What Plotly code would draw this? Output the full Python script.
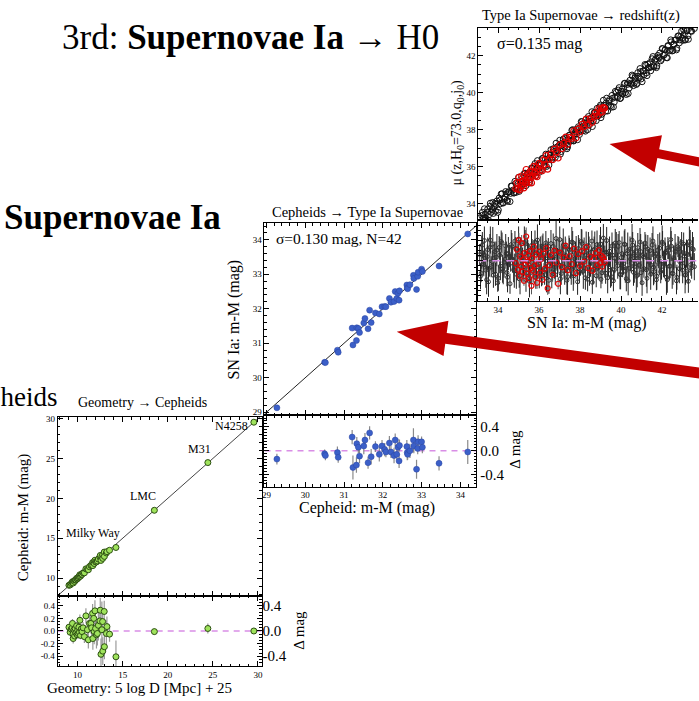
import math
import plotly.graph_objects as go

W, H = 699, 701

# ---------------- DATA ----------------
# Panel 1: Geometry -> Cepheids (Milky Way parallaxes, LMC, M31, N4258)
geo_x = [9.05, 9.18, 9.30, 9.41, 9.44, 9.50, 9.52, 9.61, 9.68, 9.74, 9.82, 9.90, 9.96,
         10.02, 10.08, 10.15, 10.21, 10.26, 10.33, 10.41, 10.50, 10.62, 10.76, 10.93,
         11.10, 11.20, 11.32, 11.48, 11.56, 11.67, 11.70, 11.80, 11.85, 11.93, 12.00,
         12.10, 12.20, 12.31, 12.48, 12.52, 12.60, 12.70, 12.78, 12.80, 12.96, 12.98,
         13.20, 13.26, 13.55, 14.26, 18.52, 24.45, 29.55]
geo_res = [0.06, -0.02, 0.03, 0.05, 0.12, -0.05, -0.12, 0.02, -0.08, 0.04, -0.03, 0.08, -0.06,
           0.01, -0.04, 0.06, -0.02, 0.17, -0.07, 0.03, -0.01, 0.05, -0.09, 0.24,
           0.02, -0.14, 0.12, 0.12, 0.05, 0.28, -0.12, 0.20, -0.01, 0.32, 0.04,
           -0.06, -0.04, 0.09, 0.16, 0.33, -0.37, 0.02, 0.15, -0.32, 0.31, -0.25,
           -0.04, 0.07, -0.05, -0.41, -0.01, 0.04, 0.00]
geo_err = [0.05, 0.04, 0.06, 0.05, 0.07, 0.05, 0.08, 0.04, 0.06, 0.05, 0.07, 0.06, 0.05,
           0.06, 0.08, 0.05, 0.07, 0.09, 0.06, 0.08, 0.07, 0.09, 0.10, 0.12,
           0.11, 0.14, 0.13, 0.16, 0.12, 0.15, 0.18, 0.14, 0.20, 0.17, 0.16,
           0.22, 0.19, 0.24, 0.15, 0.20, 0.25, 0.45, 0.18, 0.22, 0.17, 0.20,
           0.21, 0.16, 0.12, 0.26, 0.05, 0.08, 0.03]
geo_names = ["Milky Way", "LMC", "M31", "N4258"]
geo_name_x = [11.77, 17.28, 23.56, 27.09]
geo_name_y = [15.64, 20.24, 26.22, 29.08]

# Panel 2: Cepheids -> SN Ia (N=42)
cep_x = [29.27, 30.50, 30.52, 30.83, 30.85, 31.21, 31.23, 31.32, 31.33, 31.37, 31.40,
         31.51, 31.54, 31.62, 31.66, 31.70, 31.81, 31.91, 31.98, 32.05, 32.08, 32.17,
         32.21, 32.29, 32.32, 32.36, 32.39, 32.42, 32.43, 32.62, 32.63, 32.64, 32.70,
         32.79, 32.80, 32.87, 32.90, 32.91, 33.00, 33.02, 33.45, 34.19]
cep_res = [-0.14, -0.05, -0.08, -0.03, -0.11, 0.23, -0.28, -0.24, 0.12, 0.06, -0.09,
           0.08, 0.18, -0.20, 0.30, -0.10, 0.07, -0.06, 0.08, 0.02, -0.02, 0.13,
           -0.02, -0.08, 0.18, -0.06, 0.06, -0.17, 0.09, 0.07, -0.03, -0.06, 0.00,
           0.18, 0.08, -0.31, 0.04, 0.15, 0.15, 0.06, -0.21, -0.02]
cep_err = [0.09, 0.07, 0.08, 0.10, 0.09, 0.12, 0.20, 0.13, 0.11, 0.10, 0.12,
           0.14, 0.12, 0.10, 0.11, 0.13, 0.09, 0.12, 0.10, 0.11, 0.09, 0.12,
           0.10, 0.13, 0.11, 0.09, 0.14, 0.12, 0.10, 0.11, 0.13, 0.09, 0.12,
           0.20, 0.12, 0.16, 0.10, 0.11, 0.09, 0.10, 0.12, 0.20]

# Panel 3: SN Ia -> redshift (Hubble-flow sample: black, two sub-lists; calibrator range: red)
hf_mu = [33.10, 33.17, 33.23, 33.30, 33.36, 33.44, 33.49, 33.57, 33.62, 33.71,
         33.77, 33.84, 33.90, 33.98, 34.05, 34.11, 34.19, 34.25, 34.34, 34.40,
         34.46, 34.55, 34.61, 34.67, 34.76, 34.82, 34.89, 34.97, 35.03, 35.10,
         35.19, 35.24, 35.32, 35.40, 35.45, 35.53, 35.61, 35.66, 35.75, 35.80,
         35.88, 35.96, 36.01, 36.10, 36.15, 36.24, 36.31, 36.36, 36.45, 36.52,
         36.58, 36.66, 36.73, 36.79, 36.87, 36.92, 37.01, 37.08, 37.13, 37.22,
         37.28, 37.36, 37.43, 37.48, 37.57, 37.64, 37.69, 37.78, 37.84, 37.92,
         37.97, 38.06, 38.11, 38.20, 38.26, 38.33, 38.41, 38.46, 38.55, 38.60,
         38.69, 38.74, 38.83, 38.88, 38.97, 39.02, 39.11, 39.16, 39.25, 39.30,
         39.39, 39.44, 39.53, 39.58, 39.67, 39.72, 39.81, 39.86, 39.95, 40.01,
         40.08, 40.16, 40.21, 40.30, 40.35, 40.44, 40.50, 40.57, 40.65, 40.70,
         40.79, 40.84, 40.93, 40.98, 41.07, 41.12, 41.21, 41.27, 41.33, 41.42,
         41.47, 41.56, 41.61, 41.70, 41.75, 41.84, 41.89, 41.98, 42.03, 42.12,
         42.17, 42.26, 42.31, 42.40, 42.45, 42.54, 42.59, 42.68, 42.73, 42.82,
         42.87, 42.96, 43.01, 43.10, 43.15, 43.24, 43.29, 43.38, 43.45, 43.53]
hf_res = [0.12, -0.25, 0.31, -0.08, 0.05, -0.38, 0.22, -0.15, 0.41, -0.02,
          -0.29, 0.18, 0.07, -0.44, 0.26, -0.11, 0.35, -0.21, 0.03, 0.14,
          -0.33, 0.09, -0.05, 0.28, -0.18, 0.39, -0.27, 0.11, -0.36, 0.20,
          0.02, -0.13, 0.33, -0.24, 0.16, -0.41, 0.06, 0.25, -0.09, 0.37,
          -0.19, 0.13, -0.31, 0.04, 0.29, -0.22, 0.10, -0.35, 0.23, -0.04,
          0.34, -0.16, 0.08, -0.28, 0.19, -0.07, 0.42, -0.26, 0.15, -0.12,
          0.27, -0.39, 0.01, 0.21, -0.17, 0.36, -0.30, 0.12, -0.06, 0.24,
          -0.23, 0.38, -0.10, 0.17, -0.34, 0.05, 0.30, -0.20, 0.09, -0.43,
          0.22, -0.03, 0.32, -0.14, 0.26, -0.37, 0.07, 0.16, -0.25, 0.40,
          -0.08, 0.19, -0.32, 0.11, -0.18, 0.35, -0.01, 0.28, -0.27, 0.06,
          -0.15, 0.33, -0.21, 0.14, -0.40, 0.23, -0.05, 0.31, -0.12, 0.18,
          -0.29, 0.04, 0.37, -0.24, 0.10, -0.16, 0.27, -0.35, 0.02, 0.20,
          -0.09, 0.39, -0.22, 0.13, -0.31, 0.08, 0.25, -0.18, 0.34, -0.06,
          0.15, -0.38, 0.21, -0.11, 0.29, -0.26, 0.03, 0.17, -0.33, 0.24,
          -0.02, 0.36, -0.19, 0.09, -0.28, 0.12, -0.41, 0.30, -0.14, 0.22]
hf_err = [0.21, 0.18, 0.26, 0.23, 0.19, 0.29, 0.24, 0.17, 0.27, 0.22,
          0.25, 0.20, 0.31, 0.18, 0.23, 0.28, 0.21, 0.26, 0.19, 0.24,
          0.30, 0.22, 0.17, 0.27, 0.25, 0.20, 0.29, 0.23, 0.18, 0.26,
          0.24, 0.21, 0.28, 0.19, 0.25, 0.32, 0.22, 0.18, 0.27, 0.23,
          0.20, 0.26, 0.24, 0.29, 0.21, 0.17, 0.25, 0.28, 0.22, 0.19,
          0.27, 0.23, 0.30, 0.20, 0.24, 0.18, 0.26, 0.22, 0.29, 0.25,
          0.21, 0.28, 0.19, 0.24, 0.31, 0.23, 0.17, 0.26, 0.20, 0.27,
          0.22, 0.25, 0.18, 0.29, 0.24, 0.21, 0.27, 0.30, 0.19, 0.23,
          0.26, 0.20, 0.28, 0.22, 0.25, 0.18, 0.31, 0.24, 0.21, 0.27,
          0.23, 0.29, 0.19, 0.26, 0.22, 0.28, 0.20, 0.25, 0.30, 0.24,
          0.18, 0.27, 0.23, 0.21, 0.29, 0.25, 0.19, 0.26, 0.32, 0.22,
          0.24, 0.20, 0.28, 0.23, 0.27, 0.18, 0.25, 0.30, 0.21, 0.26,
          0.22, 0.29, 0.24, 0.19, 0.27, 0.23, 0.31, 0.20, 0.25, 0.28,
          0.21, 0.26, 0.18, 0.24, 0.30, 0.22, 0.27, 0.19, 0.25, 0.23,
          0.29, 0.21, 0.26, 0.24, 0.20, 0.28, 0.23, 0.31, 0.22, 0.25]
hf2_mu = [33.14, 33.20, 33.27, 33.33, 33.40, 33.47, 33.53, 33.60, 33.66, 33.74,
          33.80, 33.87, 33.94, 34.01, 34.08, 34.15, 34.22, 34.29, 34.37, 34.43,
          34.50, 34.58, 34.64, 34.71, 34.79, 34.86, 34.93, 35.00, 35.07, 35.14,
          35.21, 35.28, 35.36, 35.43, 35.49, 35.57, 35.63, 35.71, 35.78, 35.84,
          35.92, 35.99, 36.06, 36.12, 36.19, 36.27, 36.33, 36.41, 36.48, 36.55,
          36.62, 36.69, 36.76, 36.83, 36.90, 36.97, 37.04, 37.11, 37.18, 37.25,
          37.32, 37.39, 37.46, 37.53, 37.60, 37.67, 37.74, 37.81, 37.88, 37.95,
          38.02, 38.09, 38.16, 38.23, 38.30, 38.37, 38.44, 38.51, 38.58, 38.65,
          38.72, 38.79, 38.86, 38.93, 39.00, 39.07, 39.14, 39.21, 39.28, 39.35,
          39.42, 39.49, 39.56, 39.63, 39.70, 39.77, 39.84, 39.91, 39.98, 40.05,
          40.12, 40.19, 40.26, 40.33, 40.40, 40.47, 40.54, 40.61, 40.68, 40.75,
          40.82, 40.89, 40.96, 41.03, 41.10, 41.17, 41.24, 41.31, 41.38, 41.45,
          41.52, 41.59, 41.66, 41.73, 41.80, 41.87, 41.94, 42.01, 42.08, 42.15,
          42.22, 42.29, 42.36, 42.43, 42.50, 42.57, 42.64, 42.71, 42.78, 42.85,
          42.92, 42.99, 43.06, 43.13, 43.20, 43.27, 43.34, 43.41, 43.49, 43.58]
hf2_res = [-0.31, 0.17, -0.06, 0.40, -0.19, 0.08, -0.42, 0.26, -0.12, 0.33,
           0.05, -0.27, 0.21, -0.35, 0.11, 0.38, -0.16, -0.03, 0.29, -0.24,
           0.14, -0.46, 0.32, 0.02, -0.20, 0.24, -0.09, 0.43, -0.30, 0.07,
           -0.14, 0.36, -0.38, 0.19, 0.00, -0.25, 0.30, -0.11, 0.16, -0.33,
           0.41, -0.07, 0.12, -0.29, 0.26, -0.18, 0.35, -0.01, -0.39, 0.09,
           -0.23, 0.28, -0.13, 0.44, -0.04, 0.18, -0.36, 0.06, 0.31, -0.20,
           0.10, -0.32, 0.23, -0.15, 0.37, -0.26, 0.04, 0.20, -0.42, 0.13,
           -0.08, 0.34, -0.21, 0.01, 0.27, -0.37, 0.15, -0.05, 0.39, -0.17,
           0.22, -0.30, 0.08, -0.12, 0.33, -0.24, 0.45, -0.02, 0.17, -0.34,
           0.12, -0.19, 0.29, -0.40, 0.05, 0.24, -0.10, 0.36, -0.28, 0.14,
           -0.06, 0.32, -0.36, 0.20, -0.15, 0.03, 0.41, -0.23, 0.10, -0.31,
           0.26, -0.09, 0.18, -0.44, 0.07, 0.35, -0.18, 0.23, -0.03, -0.27,
           0.31, -0.13, 0.09, -0.38, 0.21, 0.00, -0.22, 0.37, -0.07, 0.16,
           -0.33, 0.25, -0.11, 0.42, -0.25, 0.06, 0.19, -0.40, 0.28, -0.16,
           0.11, -0.05, 0.33, -0.29, 0.14, -0.20, 0.38, -0.08, 0.24, -0.12]
hf2_err = [0.26, 0.33, 0.22, 0.28, 0.35, 0.24, 0.30, 0.27, 0.21, 0.34,
           0.29, 0.23, 0.32, 0.25, 0.36, 0.22, 0.28, 0.31, 0.24, 0.27,
           0.33, 0.20, 0.29, 0.26, 0.34, 0.23, 0.30, 0.25, 0.37, 0.22,
           0.28, 0.32, 0.24, 0.27, 0.35, 0.21, 0.29, 0.33, 0.26, 0.23,
           0.31, 0.25, 0.36, 0.22, 0.28, 0.30, 0.24, 0.34, 0.27, 0.21,
           0.32, 0.26, 0.23, 0.35, 0.29, 0.25, 0.31, 0.22, 0.33, 0.28,
           0.24, 0.36, 0.27, 0.21, 0.30, 0.34, 0.23, 0.29, 0.26, 0.32,
           0.22, 0.28, 0.35, 0.25, 0.31, 0.24, 0.33, 0.27, 0.21, 0.30,
           0.36, 0.23, 0.29, 0.26, 0.34, 0.22, 0.28, 0.32, 0.25, 0.31,
           0.24, 0.35, 0.27, 0.21, 0.30, 0.33, 0.26, 0.23, 0.29, 0.34,
           0.22, 0.31, 0.25, 0.36, 0.28, 0.24, 0.32, 0.27, 0.21, 0.33,
           0.29, 0.23, 0.35, 0.26, 0.30, 0.22, 0.34, 0.28, 0.25, 0.31,
           0.24, 0.36, 0.27, 0.21, 0.32, 0.29, 0.23, 0.33, 0.26, 0.30,
           0.35, 0.22, 0.28, 0.25, 0.31, 0.24, 0.34, 0.27, 0.21, 0.29,
           0.32, 0.26, 0.23, 0.36, 0.28, 0.25, 0.30, 0.22, 0.33, 0.27]
red_mu = [34.86, 34.92, 34.97, 35.01, 35.05, 35.08, 35.12, 35.15, 35.19, 35.22,
          35.26, 35.29, 35.33, 35.37, 35.40, 35.44, 35.48, 35.51, 35.55, 35.59,
          35.63, 35.66, 35.70, 35.74, 35.78, 35.82, 35.86, 35.90, 35.95, 36.00,
          36.05, 36.10, 36.16, 36.22, 36.28, 36.35, 36.42, 36.50, 36.58, 36.66,
          36.75, 36.84, 36.93, 37.02, 37.11, 37.20, 37.30, 37.40, 37.50, 37.60,
          37.70, 37.80, 37.90, 38.00, 38.10, 38.20, 38.30, 38.40, 38.50, 38.60,
          38.68, 38.76, 38.84, 38.92, 38.98, 39.04, 39.08, 39.12, 39.16, 39.20]
red_res = [-0.05, 0.22, -0.18, 0.41, -0.30, 0.08, -0.12, 0.35, -0.22, 0.02,
           -0.40, 0.15, -0.08, 0.48, -0.26, -0.02, 0.10, -0.35, 0.19, -0.15,
           -0.50, 0.05, -0.20, 0.28, -0.10, -0.32, 0.12, -0.44, -0.06, 0.18,
           -0.24, 0.03, -0.38, 0.14, -0.16, 0.25, -0.55, -0.09, 0.11, -0.28,
           0.20, -0.04, -0.46, 0.16, -0.13, 0.06, 0.30, -0.19, 0.09, -0.07,
           0.24, -0.25, 0.13, -0.11, 0.19, -0.02, 0.27, -0.15, 0.08, -0.20,
           0.04, 0.15, -0.09, 0.21, -0.05, 0.10, -0.12, 0.07, 0.02, -0.03]
red_err = [0.12, 0.15, 0.10, 0.14, 0.17, 0.11, 0.13, 0.16, 0.12, 0.14,
           0.10, 0.15, 0.13, 0.18, 0.11, 0.14, 0.12, 0.16, 0.13, 0.10,
           0.17, 0.12, 0.15, 0.11, 0.14, 0.13, 0.16, 0.12, 0.10, 0.15,
           0.13, 0.17, 0.11, 0.14, 0.12, 0.16, 0.13, 0.15, 0.10, 0.14,
           0.12, 0.16, 0.11, 0.13, 0.15, 0.12, 0.14, 0.17, 0.11, 0.13,
           0.15, 0.12, 0.14, 0.10, 0.16, 0.13, 0.11, 0.15, 0.12, 0.14,
           0.13, 0.16, 0.11, 0.14, 0.12, 0.15, 0.13, 0.10, 0.14, 0.12]

res_ticks_small = [0.4, 0.2, 0.0, -0.2, -0.4]
res_ticks_big = [0.4, 0.0, -0.4]

# ---------------- helpers ----------------
def px(x):
    return x / W


def py(y):
    return 1 - y / H


SERIF = "Liberation Serif"
GREEN = "#9fe35c"
BLUE = "#3b5fc8"
RED_ARROW = "#c20000"
MAGENTA = "#d98ee6"

geo_y = [a + b for a, b in zip(geo_x, geo_res)]
cep_y = [a + b for a, b in zip(cep_x, cep_res)]
hf_all_mu = hf_mu + hf2_mu
hf_all_res = hf_res + hf2_res
hf_all_err = hf_err + hf2_err
hf_y = [a + b for a, b in zip(hf_all_mu, hf_all_res)]
red_y = [a + b for a, b in zip(red_mu, red_res)]

fig = go.Figure()

# ranges
R1X, R1Y, R2Y = [7.8, 30.4], [7.8, 30.2], [-0.56, 0.56]
R3X, R3Y, R4Y = [28.95, 34.41], [28.92, 34.475], [-0.6, 0.6]
R5X, R5Y, R6Y = [33.03, 43.76], [33.1, 43.5], [-0.8, 0.8]

# ---- panel 1
fig.add_trace(go.Scatter(x=R1X, y=R1X, mode="lines", line=dict(color="#444", width=1),
                         xaxis="x", yaxis="y", hoverinfo="skip"))
fig.add_trace(go.Scatter(x=geo_x, y=geo_y, mode="markers", xaxis="x", yaxis="y",
                         marker=dict(size=6, color=GREEN, line=dict(color="#2c4f12", width=1))))
fig.add_trace(go.Scatter(x=R1X, y=[0, 0], mode="lines", xaxis="x2", yaxis="y2",
                         line=dict(color=MAGENTA, width=1.5, dash="6px,5px")))
fig.add_trace(go.Scatter(x=geo_x, y=geo_res, mode="markers", xaxis="x2", yaxis="y2",
                         error_y=dict(type="data", array=geo_err, color="#9a9a9a", thickness=1.2, width=0),
                         marker=dict(size=6, color=GREEN, line=dict(color="#2c4f12", width=1))))
# invisible trace so that the right-hand residual scale of panel 1 is drawn
fig.add_trace(go.Scatter(x=R1X, y=[0, 0], mode="lines", xaxis="x2", yaxis="y7",
                         line=dict(width=0), opacity=0, hoverinfo="skip"))

# ---- panel 2
fig.add_trace(go.Scatter(x=R3X, y=R3X, mode="lines", line=dict(color="#222", width=1),
                         xaxis="x3", yaxis="y3", hoverinfo="skip"))
fig.add_trace(go.Scatter(x=cep_x, y=cep_y, mode="markers", xaxis="x3", yaxis="y3",
                         marker=dict(size=6, color=BLUE, line=dict(color="#2a45a0", width=0.5))))
fig.add_trace(go.Scatter(x=R3X, y=[0, 0], mode="lines", xaxis="x4", yaxis="y4",
                         line=dict(color=MAGENTA, width=1.5, dash="6px,5px")))
fig.add_trace(go.Scatter(x=cep_x, y=cep_res, mode="markers", xaxis="x4", yaxis="y4",
                         error_y=dict(type="data", array=cep_err, color="#8a8a8a", thickness=1.2, width=0),
                         marker=dict(size=6, color=BLUE, line=dict(color="#2a45a0", width=0.5))))

# ---- panel 3
fig.add_trace(go.Scatter(x=hf_all_mu, y=hf_y, mode="markers", xaxis="x5", yaxis="y5",
                         marker=dict(size=6, symbol="circle-open", color="#111", line=dict(width=1))))
fig.add_trace(go.Scatter(x=red_mu, y=red_y, mode="markers", xaxis="x5", yaxis="y5",
                         marker=dict(size=6, symbol="circle-open", color="#e00000", line=dict(width=1.2))))
fig.add_trace(go.Scatter(x=hf_all_mu, y=hf_all_res, mode="markers", xaxis="x6", yaxis="y6",
                         error_y=dict(type="data", array=hf_all_err, color="#222", thickness=1, width=0),
                         marker=dict(size=4, symbol="circle-open", color="#333", line=dict(width=1))))
fig.add_trace(go.Scatter(x=red_mu, y=red_res, mode="markers", xaxis="x6", yaxis="y6",
                         error_y=dict(type="data", array=red_err, color="#555", thickness=1, width=0),
                         marker=dict(size=5, symbol="circle-open", color="#e00000", line=dict(width=1.2))))
fig.add_trace(go.Scatter(x=R5X, y=[0, 0], mode="lines", xaxis="x6", yaxis="y6",
                         line=dict(color=MAGENTA, width=1.5, dash="8px,6px")))

tickfont = dict(family=SERIF, size=9, color="black")


def mnr(dt):
    return dict(ticks="inside", ticklen=2.5, dtick=dt, tickcolor="black")


def ax(domain, rng, anchor, **kw):
    d = dict(domain=domain, range=rng, anchor=anchor, showline=True, linecolor="black",
             linewidth=1, ticks="inside", ticklen=5, tickcolor="black", mirror="ticks",
             showgrid=False, zeroline=False, tickfont=tickfont)
    d.update(kw)
    return d


P1X = [px(55), px(260)]
P2X = [px(263), px(476)]
P3X = [px(478), 1.0]
bigtick = dict(family=SERIF, size=15, color="black")

fig.update_layout(
    width=W, height=H, margin=dict(l=0, r=0, t=0, b=0),
    paper_bgcolor="white", plot_bgcolor="white", showlegend=False,
    font=dict(family=SERIF, color="black"),
    xaxis=ax(P1X, R1X, "y", tick0=10, dtick=5, showticklabels=False, minor=mnr(1)),
    yaxis=ax([py(597), py(417)], R1Y, "x", tick0=10, dtick=5, minor=mnr(1)),
    xaxis2=ax(P1X, R1X, "y2", tick0=10, dtick=5, minor=mnr(1)),
    yaxis2=ax([py(668), py(597)], R2Y, "x2", tickvals=res_ticks_small,
              ticktext=[f"{v:.1f}" for v in res_ticks_small], minor=mnr(0.05)),
    yaxis7=dict(overlaying="y2", side="right", anchor="x2", range=R2Y, showgrid=False, zeroline=False,
                showline=False, ticks="", tickvals=res_ticks_big, ticktext=[f"{v:.1f}" for v in res_ticks_big],
                tickfont=bigtick),
    xaxis3=ax(P2X, R3X, "y3", dtick=1, showticklabels=False, minor=mnr(0.2)),
    yaxis3=ax([py(415), py(222)], R3Y, "x3", dtick=1, minor=mnr(0.2)),
    xaxis4=ax(P2X, R3X, "y4", dtick=1, minor=mnr(0.2)),
    yaxis4=ax([py(487), py(415)], R4Y, "x4", side="right", tickvals=res_ticks_big,
              ticktext=[f"{v:.1f}" for v in res_ticks_big], tickfont=bigtick, minor=mnr(0.05)),
    xaxis5=ax(P3X, R5X, "y5", dtick=2, showticklabels=False, minor=mnr(0.5)),
    yaxis5=ax([py(219), py(25)], R5Y, "x5", dtick=2, mirror=False, minor=mnr(0.5)),
    xaxis6=ax(P3X, R5X, "y6", dtick=2, minor=mnr(0.5)),
    yaxis6=ax([py(300), py(219)], R6Y, "x6", mirror=False, showticklabels=False, dtick=0.4, minor=mnr(0.1)),
)

ann = []


def txt(x, y, s, size, angle=0, xanchor="center", yanchor="middle", xref="paper", yref="paper"):
    ann.append(dict(x=x, y=y, xref=xref, yref=yref, text=s, showarrow=False, textangle=angle,
                    xanchor=xanchor, yanchor=yanchor, borderpad=0,
                    font=dict(family=SERIF, size=size, color="black")))


# big slide titles
txt(px(58), py(35), "3rd: <b>Supernovae Ia</b> → H0", 35, xanchor="left")
txt(px(0), py(216), "<b>Supernovae Ia</b>", 35, xanchor="left")
txt(px(56), py(397), "Cepheids", 27, xanchor="right")

# panel titles
txt(px(140), py(402), "Geometry → Cepheids", 14)
txt(px(367), py(210), "Cepheids → Type Ia Supernovae", 14.5)
txt(px(581), py(13), "Type Ia Supernovae → redshift(z)", 14.5)

# sigma labels
txt(px(274), py(237), "σ=0.130 mag, N=42", 15.5, xanchor="left")
txt(px(496), py(41), "σ=0.135 mag", 16, xanchor="left")

# axis titles
txt(px(137), py(690), "Geometry: 5 log D [Mpc] + 25", 15)
txt(px(20), py(518), "Cepheid: m-M (mag)", 15, angle=-90)
txt(px(298), py(632), "Δ mag", 15, angle=-90)
txt(px(366), py(509), "Cepheid: m-M (mag)", 16)
txt(px(232), py(319), "SN Ia: m-M (mag)", 16, angle=-90)
txt(px(515), py(450), "Δ mag", 15, angle=-90)
txt(px(587), py(322), "SN Ia: m-M (mag)", 16)
txt(px(457), py(130), "μ (z,H<sub>0</sub>=73.0,q<sub>0</sub>,j<sub>0</sub>)", 14, angle=-90)

# object names in panel 1
for nx, ny, nm in zip(geo_name_x, geo_name_y, geo_names):
    txt(nx, ny, nm, 12, xref="x", yref="y")

fig.update_layout(annotations=ann)


# red arrows (decoration) as filled polygons in paper coords
def arrow(tip, tail, head_len, head_hw, shaft_hw):
    dx, dy = tail[0] - tip[0], tail[1] - tip[1]
    L = math.hypot(dx, dy)
    ux, uy = dx / L, dy / L
    nx, ny = -uy, ux
    bx, by = tip[0] + ux * head_len, tip[1] + uy * head_len
    pts = [tip,
           (bx + nx * head_hw, by + ny * head_hw),
           (bx + nx * shaft_hw, by + ny * shaft_hw),
           (tail[0] + nx * shaft_hw, tail[1] + ny * shaft_hw),
           (tail[0] - nx * shaft_hw, tail[1] - ny * shaft_hw),
           (bx - nx * shaft_hw, by - ny * shaft_hw),
           (bx - nx * head_hw, by - ny * head_hw)]
    path = "M " + " L ".join(f"{px(a):.5f},{py(b):.5f}" for a, b in pts) + " Z"
    return dict(type="path", xref="paper", yref="paper", path=path,
                fillcolor=RED_ARROW, line=dict(width=0), layer="above")


fig.update_layout(shapes=[
    arrow((610, 142), (760, 172), 50, 19, 4.5),
    arrow((396, 331), (760, 381), 50, 18, 5.5),
])

fig.write_html("out.html")
